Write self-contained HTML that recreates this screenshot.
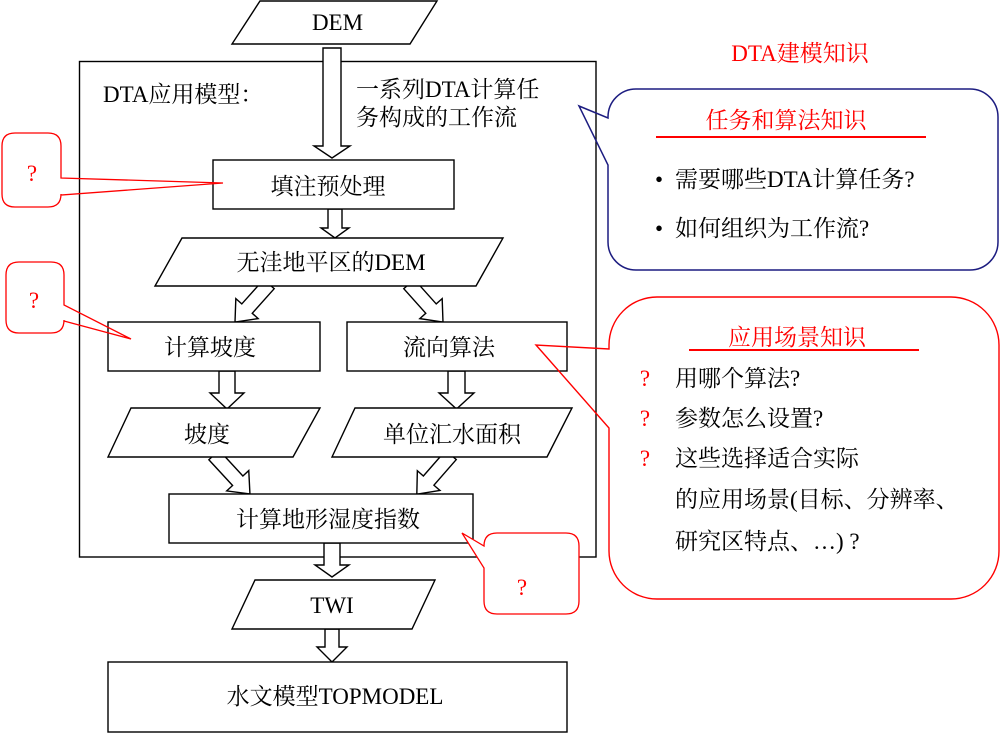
<!DOCTYPE html>
<html>
<head>
<meta charset="utf-8">
<style>
html,body{margin:0;padding:0;background:#fff;}
svg{display:block;}
text{font-family:"Liberation Serif","Noto Serif CJK SC",serif;font-size:23px;fill:#000;}
.r{fill:#ff0000;}
</style>
</head>
<body>
<svg width="1000" height="733" viewBox="0 0 1000 733" xmlns="http://www.w3.org/2000/svg">
<!-- main box -->
<rect x="79.5" y="61.5" width="516.5" height="495.5" fill="none" stroke="#000" stroke-width="1.4"/>

<g fill="#fff" stroke="#000" stroke-width="1.4" stroke-linejoin="miter">
<!-- vertical arrows -->
<polygon points="323,48 341,48 341,146 350,146 332,158 314,146 323,146"/>
<polygon points="328,209 342,209 342,228 349,228 335,238 321,228 328,228"/>
<polygon points="219,371 235,371 235,393 244,393 227,409 210,393 219,393"/>
<polygon points="448,371 465,371 465,393 474,393 456.5,409 439,393 448,393"/>
<polygon points="324,543 340,543 340,565 349,565 332,577 315,565 324,565"/>
<polygon points="325,629 339,629 339,647 347,647 332,662 317,647 325,647"/>
<!-- diagonal arrows -->
<polygon points="0,-7 33,-7 33,-15 51,0 33,15 33,7 0,7" transform="translate(269,284) rotate(131.8)"/>
<polygon points="0,-7 33,-7 33,-15 51,0 33,15 33,7 0,7" transform="translate(409,284) rotate(48.2)"/>
<polygon points="0,-7 35,-7 35,-15 53,0 35,15 35,7 0,7" transform="translate(214,455) rotate(47.3)"/>
<polygon points="0,-7 34,-7 34,-15 52,0 34,15 34,7 0,7" transform="translate(451,455) rotate(131.1)"/>

<!-- parallelograms -->
<polygon points="260,1 437,1 410,44 232,44"/>
<polygon points="182,238 503,238 476,286 155,286"/>
<polygon points="131,408 320,408 293,457 108,457"/>
<polygon points="355,408 572,408 547,457 332,457"/>
<polygon points="255,580 435,580 412,629 232,629"/>
<!-- boxes -->
<rect x="213" y="160" width="241" height="49"/>
<rect x="108" y="322" width="212" height="49"/>
<rect x="347" y="322" width="220" height="49"/>
<rect x="169" y="494" width="304" height="49"/>
<rect x="108" y="662" width="459" height="70"/>
</g>

<!-- flow texts -->
<text x="337.5" y="30" text-anchor="middle">DEM</text>
<text x="103" y="102">DTA应用模型：</text>
<text x="356" y="97">一系列DTA计算任</text>
<text x="356" y="125">务构成的工作流</text>
<text x="328" y="194" text-anchor="middle">填注预处理</text>
<text x="331" y="270" text-anchor="middle">无洼地平区的DEM</text>
<text x="210" y="355" text-anchor="middle">计算坡度</text>
<text x="449" y="355" text-anchor="middle">流向算法</text>
<text x="207" y="442" text-anchor="middle">坡度</text>
<text x="452" y="442" text-anchor="middle">单位汇水面积</text>
<text x="328" y="527" text-anchor="middle">计算地形湿度指数</text>
<text x="332" y="613" text-anchor="middle">TWI</text>
<text x="335" y="704" text-anchor="middle">水文模型TOPMODEL</text>

<!-- left callouts -->
<path d="M15,133 H48 Q61,133 61,146 V178 L223,183 L61,195 V194 Q61,207 48,207 H15 Q2,207 2,194 V146 Q2,133 15,133 Z" fill="none" stroke="#ff0000" stroke-width="1.3"/>
<text class="r" x="32" y="181" text-anchor="middle" font-size="22">?</text>
<path d="M19,262 H51 Q64,262 64,275 V305 L131,339 L64,321 V320 Q64,333 51,333 H19 Q6,333 6,320 V275 Q6,262 19,262 Z" fill="none" stroke="#ff0000" stroke-width="1.3"/>
<text class="r" x="34" y="308" text-anchor="middle" font-size="22">?</text>

<!-- bottom callout -->
<path d="M497,533 H566 Q579,533 579,546 V601 Q579,614 566,614 H497 Q484,614 484,601 V568 L462,533 L484,546 Q484,533 497,533 Z" fill="#fff" stroke="#ff0000" stroke-width="1.3"/>
<text class="r" x="522" y="595" text-anchor="middle" font-size="22">?</text>

<!-- right title -->
<text class="r" x="800" y="61" text-anchor="middle">DTA建模知识</text>

<!-- blue callout -->
<path d="M636,89 H970 A28,28 0 0 1 998,117 V242 A28,28 0 0 1 970,270 H636 A28,28 0 0 1 608,242 V165 L579,106 L608,118 V117 A28,28 0 0 1 636,89 Z" fill="none" stroke="#1c1c80" stroke-width="1.5"/>
<text class="r" x="786" y="128" text-anchor="middle">任务和算法知识</text>
<line x1="656" y1="137" x2="926" y2="137" stroke="#ff0000" stroke-width="2"/>
<text x="659" y="187" text-anchor="middle">•</text>
<text x="675" y="187">需要哪些DTA计算任务?</text>
<text x="659" y="236" text-anchor="middle">•</text>
<text x="675" y="236">如何组织为工作流?</text>

<!-- red callout -->
<path d="M657,297 H951 A48,48 0 0 1 999,345 V551 A48,48 0 0 1 951,599 H657 A48,48 0 0 1 609,551 V428 L536,345 L609,349 V345 A48,48 0 0 1 657,297 Z" fill="none" stroke="#ff0000" stroke-width="1.4"/>
<text class="r" x="797" y="345" text-anchor="middle">应用场景知识</text>
<line x1="689" y1="350" x2="919" y2="350" stroke="#ff0000" stroke-width="2"/>
<text class="r" x="645" y="386" text-anchor="middle" font-size="22">?</text>
<text class="r" x="645" y="426" text-anchor="middle" font-size="22">?</text>
<text class="r" x="645" y="466" text-anchor="middle" font-size="22">?</text>
<text x="675" y="386">用哪个算法?</text>
<text x="675" y="426">参数怎么设置?</text>
<text x="675" y="466">这些选择适合实际</text>
<text x="675" y="507">的应用场景(目标、分辨率、</text>
<text x="675" y="549">研究区特点、…) ?</text>
</svg>
</body>
</html>
